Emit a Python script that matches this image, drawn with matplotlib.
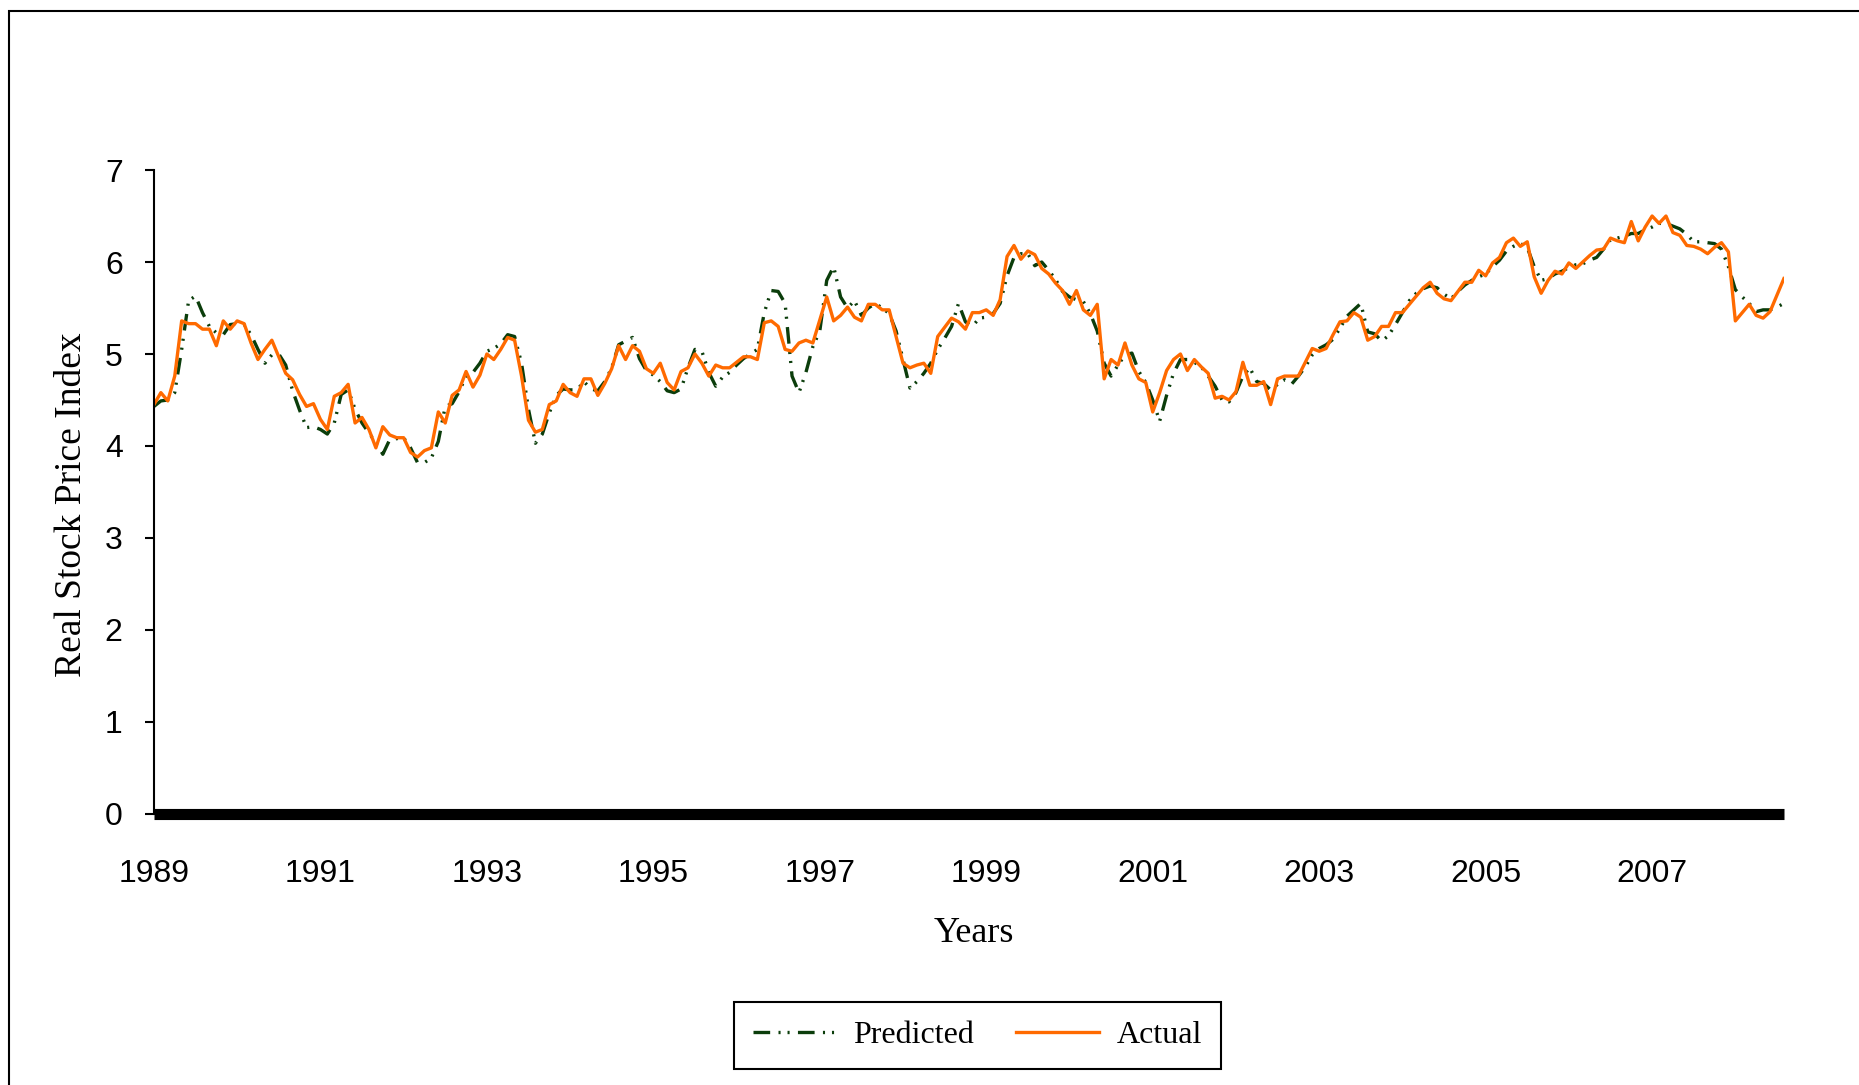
import matplotlib.pyplot as plt
from matplotlib.patches import Rectangle

# monthly real stock price index, Jan 1989 onwards
year_labels = ["1989", "1991", "1993", "1995", "1997", "1999", "2001", "2003", "2005", "2007"]

actual = [
    4.45, 4.58, 4.49, 4.76, 5.36, 5.33, 5.33, 5.27, 5.27, 5.09, 5.36, 5.27,
    5.36, 5.33, 5.12, 4.94, 5.05, 5.15, 4.97, 4.79, 4.72, 4.56, 4.43, 4.46,
    4.29, 4.18, 4.54, 4.58, 4.67, 4.25, 4.31, 4.18, 3.98, 4.21, 4.12, 4.09,
    4.09, 3.93, 3.88, 3.95, 3.98, 4.37, 4.25, 4.55, 4.61, 4.81, 4.64, 4.77,
    5.00, 4.94, 5.05, 5.18, 5.15, 4.76, 4.28, 4.15, 4.18, 4.45, 4.49, 4.67,
    4.58, 4.54, 4.73, 4.73, 4.55, 4.68, 4.84, 5.09, 4.94, 5.09, 5.03, 4.84,
    4.79, 4.90, 4.69, 4.61, 4.81, 4.85, 5.00, 4.90, 4.76, 4.88, 4.85, 4.85,
    4.91, 4.97, 4.97, 4.94, 5.34, 5.36, 5.30, 5.05, 5.03, 5.12, 5.15, 5.12,
    5.37, 5.62, 5.36, 5.42, 5.51, 5.40, 5.36, 5.54, 5.54, 5.48, 5.48, 5.19,
    4.90, 4.85, 4.88, 4.90, 4.79, 5.19, 5.29, 5.39, 5.35, 5.27, 5.45, 5.45,
    5.48, 5.42, 5.59, 6.06, 6.18, 6.03, 6.12, 6.08, 5.93, 5.87, 5.77, 5.69,
    5.54, 5.69, 5.48, 5.42, 5.54, 4.73, 4.94, 4.88, 5.12, 4.88, 4.73, 4.69,
    4.37, 4.58, 4.82, 4.94, 5.00, 4.82, 4.94, 4.86, 4.79, 4.52, 4.54, 4.50,
    4.59, 4.91, 4.66, 4.66, 4.70, 4.45, 4.73, 4.76, 4.76, 4.76, 4.91, 5.06,
    5.03, 5.06, 5.21, 5.35, 5.36, 5.45, 5.40, 5.15, 5.19, 5.30, 5.30, 5.45,
    5.45, 5.54, 5.63, 5.72, 5.78, 5.66, 5.60, 5.58, 5.68, 5.78, 5.78, 5.91,
    5.85, 5.99, 6.05, 6.21, 6.26, 6.17, 6.22, 5.84, 5.66, 5.80, 5.90, 5.87,
    5.99, 5.93, 6.00, 6.07, 6.13, 6.14, 6.26, 6.23, 6.21, 6.44, 6.23, 6.38,
    6.50, 6.42, 6.50, 6.32, 6.29, 6.18, 6.17, 6.14, 6.09, 6.16, 6.21, 6.11,
    5.36, 5.45, 5.54, 5.42, 5.39, 5.46, 5.64, 5.82,
]

predicted = [
    4.43, 4.49, 4.50, 4.58, 5.05, 5.58, 5.63, 5.45, 5.30, 5.23, 5.21, 5.32,
    5.33, 5.32, 5.21, 5.05, 4.90, 4.99, 5.00, 4.88, 4.60, 4.39, 4.20, 4.21,
    4.18, 4.13, 4.25, 4.56, 4.61, 4.40, 4.25, 4.14, 4.04, 3.91, 4.07, 4.08,
    4.09, 3.98, 3.82, 3.82, 3.87, 4.05, 4.43, 4.46, 4.59, 4.76, 4.80, 4.90,
    5.03, 5.06, 5.11, 5.21, 5.19, 4.90, 4.40, 4.03, 4.13, 4.36, 4.55, 4.62,
    4.61, 4.61, 4.70, 4.62, 4.60, 4.70, 4.85, 5.10, 5.14, 5.18, 4.95, 4.82,
    4.77, 4.70, 4.60, 4.58, 4.62, 4.85, 5.05, 5.03, 4.80, 4.65, 4.75, 4.80,
    4.88, 4.95, 5.00, 5.05, 5.45, 5.69, 5.68, 5.55, 4.76, 4.58, 4.80, 5.08,
    5.25, 5.80, 5.95, 5.62, 5.50, 5.58, 5.42, 5.50, 5.55, 5.50, 5.44, 5.25,
    4.94, 4.63, 4.70, 4.79, 4.90, 5.05, 5.17, 5.30, 5.55, 5.35, 5.30, 5.39,
    5.40, 5.44, 5.55, 5.85, 6.05, 6.09, 6.09, 5.96, 6.00, 5.91, 5.81, 5.68,
    5.62, 5.59, 5.57, 5.44, 5.25, 4.90, 4.76, 4.88, 4.99, 5.01, 4.81, 4.69,
    4.50, 4.27, 4.55, 4.79, 4.94, 4.94, 4.91, 4.86, 4.76, 4.65, 4.50, 4.48,
    4.58, 4.76, 4.85, 4.70, 4.68, 4.61, 4.67, 4.72, 4.67, 4.76, 4.86, 4.99,
    5.06, 5.10, 5.16, 5.28, 5.41, 5.48, 5.55, 5.24, 5.22, 5.14, 5.20, 5.32,
    5.45, 5.58, 5.66, 5.71, 5.74, 5.72, 5.65, 5.60, 5.68, 5.75, 5.80, 5.84,
    5.87, 5.95, 6.02, 6.12, 6.17, 6.20, 6.16, 5.95, 5.80, 5.82, 5.87, 5.90,
    5.94, 5.97, 5.98, 6.02, 6.05, 6.14, 6.24, 6.26, 6.28, 6.31, 6.31, 6.35,
    6.38, 6.42, 6.42, 6.39, 6.36, 6.30, 6.22, 6.22, 6.21, 6.20, 6.14, 5.95,
    5.70, 5.62, 5.55, 5.46, 5.48, 5.48, 5.51, 5.55,
]

plt.rcParams['lines.scale_dashes'] = False

fig = plt.figure(figsize=(18.59, 10.85), dpi=100)
ax = fig.add_axes([0.0828, 0.2498, 0.8768, 0.5935])

months = list(range(len(actual)))
ax.plot(months, predicted, color="#0b3d0b", lw=2.4,
        dashes=(12, 6, 1.5, 5, 1.5, 6), label="Predicted")
ax.plot(months, actual, color="#ff6a00", lw=2.4, label="Actual")

ax.set_xlim(0, len(actual) - 1)
ax.set_ylim(0, 7)
ax.set_yticks(range(0, 8))
ax.set_xticks(range(0, len(actual), 24))
ax.set_xticklabels(year_labels)

for s in ["top", "right", "bottom"]:
    ax.spines[s].set_visible(False)
ax.spines["left"].set_linewidth(1.5)
ax.axhline(0, color="black", lw=8, solid_capstyle="butt", clip_on=False, zorder=5)

ax.tick_params(axis="x", length=0, pad=32.5, labelsize=23)
ax.tick_params(axis="y", length=6.5, width=1.5, pad=16, labelsize=23)
for lab in ax.get_xticklabels() + ax.get_yticklabels():
    lab.set_family("Liberation Sans")

fig.text(72 / 1859, 1 - 505 / 1085, "Real Stock Price Index", rotation=90,
         ha="center", va="center", family="Liberation Serif", fontsize=27)
fig.text(0.524, 1 - 934 / 1085, "Years", ha="center", va="center",
         family="Liberation Serif", fontsize=26)

leg = fig.legend(loc="center", bbox_to_anchor=(0.5258, 0.0455), ncol=2,
                 prop=dict(family="Liberation Serif", size=23),
                 handlelength=2.6, handletextpad=0.55, columnspacing=1.3,
                 borderpad=0.6, fancybox=False, edgecolor="black", framealpha=1)
leg.get_frame().set_linewidth(1.5)

# outer chart-area border (runs off the right and bottom edge)
fig.patches.append(Rectangle((9 / 1859, -0.1), 1.2, 1.0899, transform=fig.transFigure,
                             fill=False, lw=1.5, ec="black"))

fig.savefig("out.png", dpi=100)
